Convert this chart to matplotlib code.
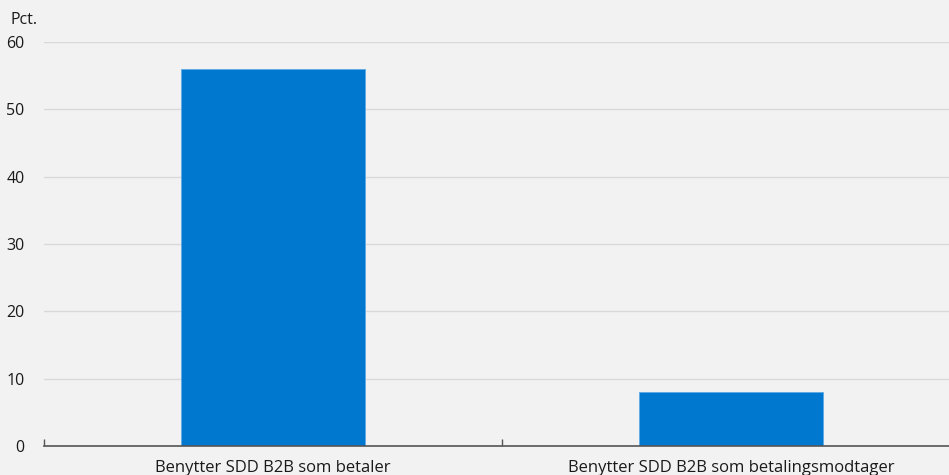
import numpy as np
import matplotlib
matplotlib.use("Agg")
import matplotlib.pyplot as plt

# Andel virksomheder der benytter SDD B2B
kategorier = ["Benytter SDD B2B som betaler", "Benytter SDD B2B som betalingsmodtager"]
andel = [56, 8]
yticks = [0, 10, 20, 30, 40, 50, 60]

plt.rcParams['font.family'] = ['Open Sans', 'DejaVu Sans']

bg = "#f2f2f2"
fig = plt.figure(figsize=(9.49, 4.75), dpi=100, facecolor=bg)
ax = fig.add_axes([44/949, 29/475, 916/949, 404/475], facecolor=bg)

x = np.arange(len(kategorier))
ax.bar(x, andel, width=0.4, color="#0078d0", edgecolor="#5ea9e4", linewidth=0.6, zorder=3)

ax.set_xlim(-0.5, 1.5)
ax.set_ylim(0, 60)
ax.set_yticks(yticks)
ax.yaxis.grid(True, color="#d9d9d9", linewidth=1, zorder=0)
ax.tick_params(axis="y", length=0, pad=14, labelsize=11.5, labelcolor="#1a1a1a")

ax.set_xticks(x)
ax.set_xticklabels(kategorier)
ax.tick_params(axis="x", length=0, pad=10, labelsize=12, labelcolor="#1a1a1a")
ax.set_xticks([-0.5, 0.5, 1.5], minor=True)
ax.tick_params(axis="x", which="minor", direction="in", length=5, width=1, color="#555555")

for s in ["top", "right", "left"]:
    ax.spines[s].set_visible(False)
ax.spines["bottom"].set_color("#555555")
ax.spines["bottom"].set_linewidth(1.2)
ax.spines["bottom"].set_zorder(4)

fig.text(10/949, 1 - 20/475, "Pct.", fontsize=11.5, color="#1a1a1a", va="center", ha="left")

plt.savefig("out.png", dpi=100, facecolor=bg)
plt.close()
